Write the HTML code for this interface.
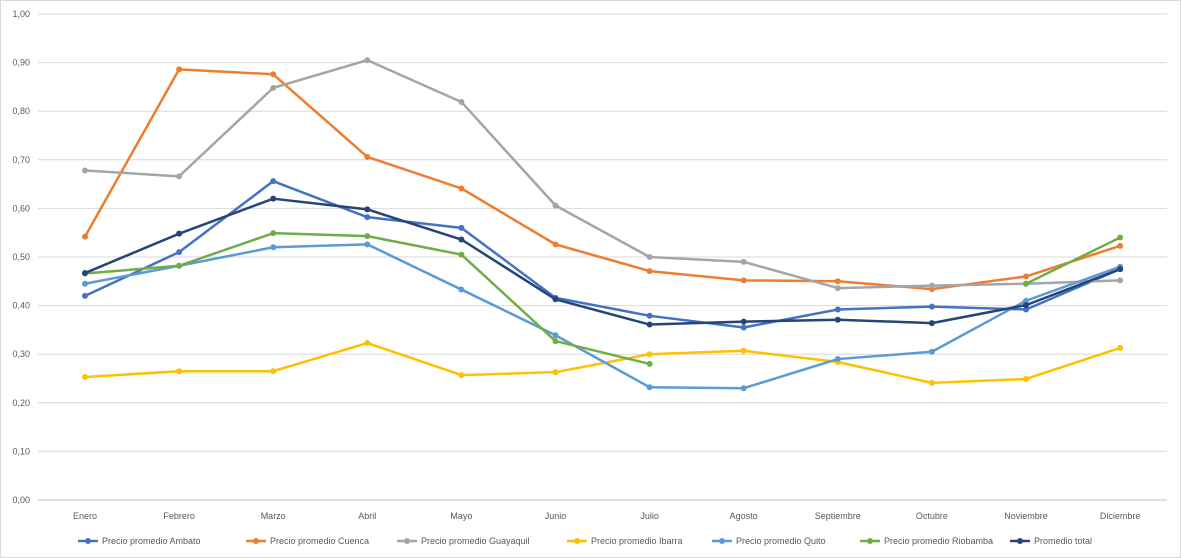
<!DOCTYPE html>
<html><head><meta charset="utf-8"><style>
body{margin:0;background:#fff;font-family:"Liberation Sans",sans-serif;}
svg{display:block}
</style></head><body>
<svg id="c" width="1181" height="558">
<rect x="0.5" y="0.5" width="1180" height="557" fill="#fff" stroke="#d9d9d9"/>
</svg>
<script>
const categories=["Enero","Febrero","Marzo","Abril","Mayo","Junio","Julio","Agosto","Septiembre","Octubre","Noviembre","Diciembre"];
const yTicks=[0,0.1,0.2,0.3,0.4,0.5,0.6,0.7,0.8,0.9,1.0];
const seriesNames=["Precio promedio Ambato","Precio promedio Cuenca","Precio promedio Guayaquil","Precio promedio Ibarra","Precio promedio Quito","Precio promedio Riobamba","Promedio total"];
const ambato=[0.42,0.51,0.656,0.582,0.56,0.416,0.379,0.355,0.392,0.398,0.392,0.475];
const cuenca=[0.542,0.886,0.876,0.706,0.641,0.526,0.471,0.452,0.450,0.434,0.460,0.523];
const guayaquil=[0.678,0.666,0.848,0.905,0.819,0.606,0.500,0.490,0.436,0.441,0.445,0.452];
const ibarra=[0.253,0.265,0.265,0.323,0.257,0.263,0.300,0.307,0.284,0.241,0.249,0.313];
const quito=[0.445,0.482,0.520,0.526,0.433,0.339,0.232,0.230,0.290,0.305,0.410,0.480];
const riobamba=[0.466,0.482,0.549,0.543,0.505,0.327,0.280,null,null,null,0.445,0.540];
const total=[0.467,0.548,0.620,0.598,0.536,0.413,0.361,0.367,0.371,0.364,0.401,0.475];
const colors=["#4472C4","#ED7D31","#A5A5A5","#FFC000","#5B9BD5","#70AD47","#264478"];
const all=[ambato,cuenca,guayaquil,ibarra,quito,riobamba,total];
const NS="http://www.w3.org/2000/svg",svg=document.getElementById('c');
const x=i=>85+i*94.1, y=v=>500-v*486;
function mk(t,a,p){const e=document.createElementNS(NS,t);for(const k in a)e.setAttribute(k,a[k]);(p||svg).appendChild(e);return e;}
yTicks.forEach(v=>{
  const l=mk('line',{x1:38,x2:1167,y1:y(v),y2:y(v),stroke:v===0?'#bfbfbf':'#d9d9d9'});
  
  
  const t=mk('text',{x:30,y:y(v)+3,'text-anchor':'end','font-size':9,fill:'#595959'});
  t.textContent=v.toFixed(2).replace('.',',');
  
  
});
categories.forEach((c,i)=>{
  const t=mk('text',{x:x(i),y:519,'text-anchor':'middle','font-size':9,fill:'#595959'});
  t.textContent=c;
  
  
});
all.forEach((s,k)=>{
  let d='',pen=false;
  s.forEach((v,i)=>{if(v==null){pen=false;return;}d+=(pen?'L':'M')+x(i)+' '+y(v)+' ';pen=true;});
  const p=mk('path',{d:d,fill:'none',stroke:colors[k],'stroke-width':2.5,'stroke-linejoin':'round'});
  
  
  s.forEach((v,i)=>{if(v==null)return;
    const c=mk('circle',{cx:x(i),cy:y(v),r:3,fill:colors[k]});
    
    
  });
});
const lx=[78,246,397,567,712,860,1010];
seriesNames.forEach((n,k)=>{
  const g=mk('g',{});
  
  
  mk('line',{x1:lx[k],x2:lx[k]+20,y1:541,y2:541,stroke:colors[k],'stroke-width':2.5},g);
  mk('circle',{cx:lx[k]+10,cy:541,r:3,fill:colors[k]},g);
  const t=mk('text',{x:lx[k]+24,y:544,'font-size':9,fill:'#595959'},g);
  t.textContent=n;
});
</script>
</body></html>
